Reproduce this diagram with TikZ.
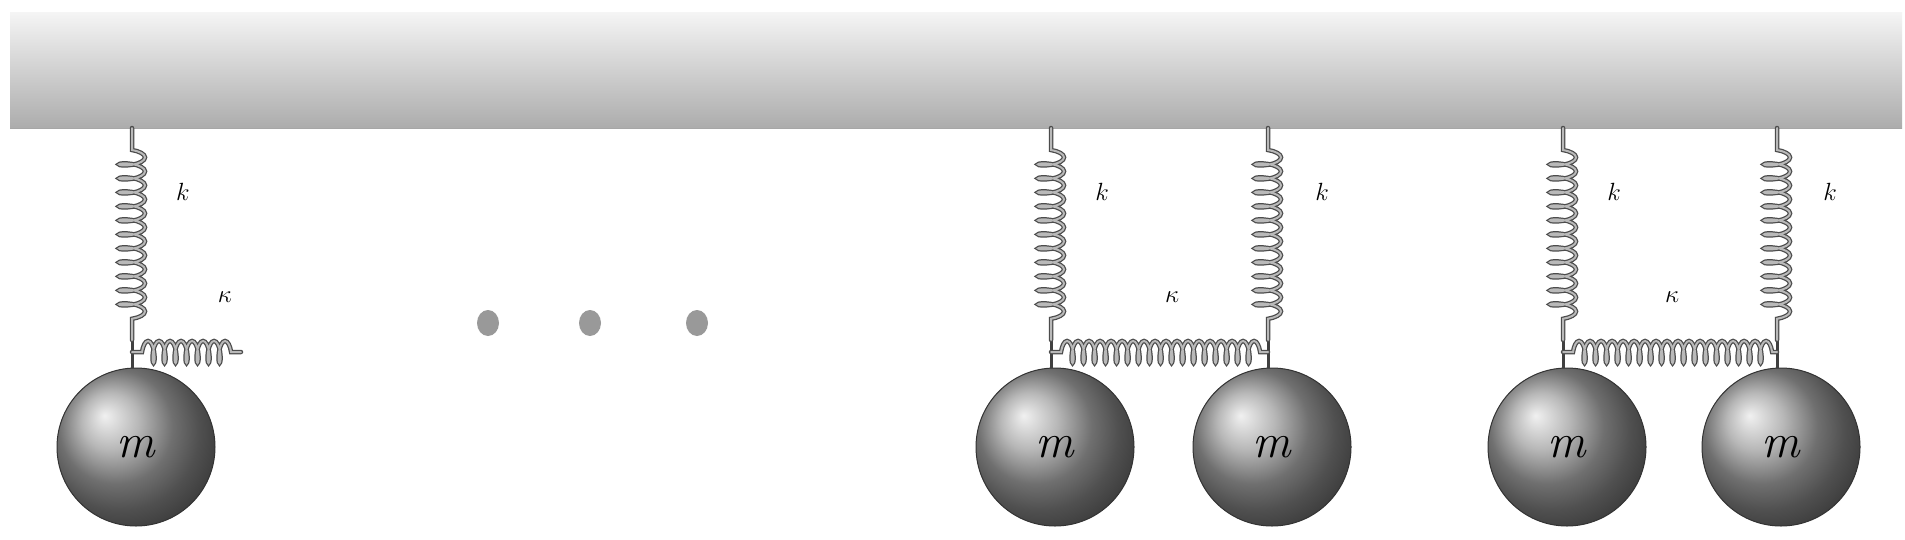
\documentclass[tikz,border=0pt]{standalone}
\usetikzlibrary{decorations.pathmorphing,calc,shapes.geometric}
\begin{document}
\begin{tikzpicture}[x=1pt,y=-1pt,
  coilv/.style={decorate,decoration={coil,amplitude=13pt,segment length=14pt,aspect=0.3,pre length=22pt,post length=8pt}},
  coilh/.style={decorate,decoration={coil,amplitude=11pt,segment length=11pt,aspect=0.3,pre length=10pt,post length=4pt}},
  springout/.style={draw=black!70,line width=4.5pt,line cap=round},
  springin/.style={draw=gray!55,line width=2pt,line cap=round},
  mass/.style={circle,minimum size=158pt,inner sep=0pt,draw=black!80,line width=1pt,ball color=gray!75,shading=ball,font=\fontsize{48}{48}\selectfont\itshape},
  lab/.style={font=\fontsize{62}{62}\selectfont\itshape,inner sep=0pt},
  dot/.style={ellipse,fill=gray!80,minimum width=22pt,minimum height=26pt,inner sep=0pt,draw=none},
  stem/.style={draw=black!75,line width=3pt}]
\useasboundingbox (0,0) rectangle (1905,539);
\fill[white] (0,0) rectangle (1905,539);
% ceiling bar
\shade[top color=gray!8,bottom color=gray!65] (10,12) rectangle (1902,128);
\draw[gray!70,line width=1pt] (10,128) -- (1902,128);
% supports
\foreach \n/\x in {a/132,b/1051,c/1268,d/1563,e/1777}{
  \coordinate (top\n) at (\x,128);
  \coordinate (bot\n) at (\x,340);
  \coordinate (hk\n) at (\x,352);
  \node[mass] (m\n) at (\x+4,447) {m};
  \draw[stem] (bot\n) -- (m\n.north -| bot\n);
  \draw[springout,coilv] (top\n) -- (bot\n);
  \draw[springin,coilv] (top\n) -- (bot\n);
}
% horizontal springs
\coordinate (hend) at (241,352);
\foreach \s/\t in {a/hend,b/hkc,d/hke}{
  \draw[springout,coilh] (hk\s) -- (\t);
  \draw[springin,coilh] (hk\s) -- (\t);
}
% labels
\node[lab] (k1) at (183,192) {$k$};
\node[lab] (k2) at (1102,192) {$k$};
\node[lab] (k3) at (1322,192) {$k$};
\node[lab] (k4) at (1614,192) {$k$};
\node[lab] (k5) at (1830,192) {$k$};
\node[lab] (q1) at (225,297) {$\kappa$};
\node[lab] (q2) at (1172,297) {$\kappa$};
\node[lab] (q3) at (1672,297) {$\kappa$};
% dots
\node[dot] (d1) at (488,323) {};
\node[dot] (d2) at (590,323) {};
\node[dot] (d3) at (697,323) {};
\end{tikzpicture}
\end{document}
